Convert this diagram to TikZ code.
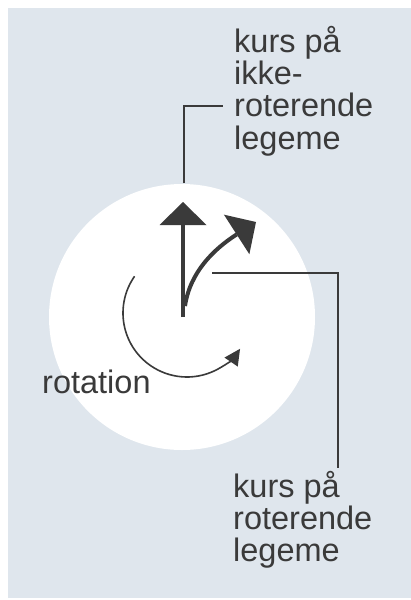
\documentclass[tikz,border=0pt]{standalone}
\usepackage{fontspec}
\setmainfont{Liberation Sans}
\usetikzlibrary{arrows.meta}
\definecolor{bgblue}{RGB}{223,230,237}
\definecolor{ink}{RGB}{58,58,58}
\tikzset{
  lbl/.style={anchor=base west, inner sep=0pt, text=ink,
    font=\fontsize{32.5}{32.4}\selectfont},
  leader/.style={draw=ink, line width=1.5pt},
  bold arrow/.style={draw=ink, line width=4pt,
    -{Triangle[length=23pt,width=47pt,line width=0pt]}},
  rot arrow/.style={draw=ink, line width=1.6pt,
    -{Triangle[length=16pt,width=16pt,line width=0pt]}},
}
\begin{document}
\begin{tikzpicture}[x=1pt,y=-1pt]
\useasboundingbox (0,0) rectangle (411,600);
\fill[white] (0,0) rectangle (411,600);
\fill[bgblue] (8,8) rectangle (411,598);
% white disc
\fill[white] (182,317) circle[radius=133];

% coordinates
\coordinate (o) at (183,317);
\coordinate (up) at (183,202);
\coordinate (cs) at (185,306);
\coordinate (ct) at (256,222);
\coordinate (rc) at (187,313);
\coordinate (t1) at (184,183);
\coordinate (t2) at (223,106);
\coordinate (b1) at (212,273);
\coordinate (b2) at (338,468);

% arrows
\draw[bold arrow, line cap=butt] (o) -- (up);
\draw[bold arrow] (cs) .. controls (190,272) and (214,249) .. (ct);
\draw[rot arrow] (rc) ++(215:64) arc[start angle=215, end angle=34, radius=64];

% labels
\node[lbl] (top) at (234,52)
  {\vtop{\hbox{kurs på}\hbox{ikke-}\hbox{roterende}\hbox{legeme}}};
\node[lbl] (bot) at (233,497)
  {\vtop{\hbox{kurs på}\hbox{roterende}\hbox{legeme}}};
\node[lbl] (rot) at (42,393) {rotation};

% leaders
\draw[leader] (t1) |- (t2);
\draw[leader] (b1) -| (b2);
\end{tikzpicture}
\end{document}
